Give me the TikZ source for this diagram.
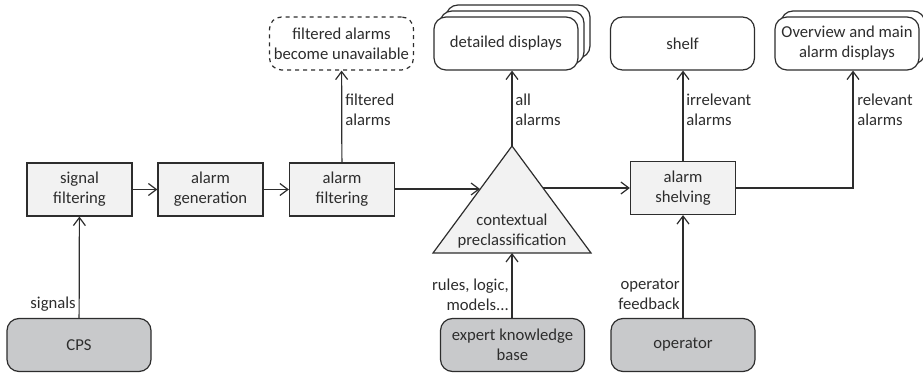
\documentclass[tikz,border=0pt]{standalone}
\usepackage{fontspec}
\setmainfont{Carlito}
\usetikzlibrary{arrows.meta,positioning}

\definecolor{boxfill}{RGB}{242,242,242}
\definecolor{srcfill}{RGB}{200,201,203}
\definecolor{edgegray}{RGB}{45,45,45}
\definecolor{textgray}{RGB}{45,45,45}

\tikzset{
  proc/.style={draw=edgegray, fill=boxfill, line width=0.9pt, minimum width=78.75pt, minimum height=39.75pt, inner sep=0pt, align=center},
  sink/.style={draw=edgegray, fill=white, line width=0.9pt, rounded corners=9pt, minimum width=108pt, minimum height=39.75pt, inner sep=0pt, align=center},
  source/.style={sink, fill=srcfill},
  flow/.style={draw=edgegray, line width=0.9pt, -{Straight Barb[length=6pt,width=9pt,line width=0.9pt]}},
  lbl/.style={text=textgray, align=left, inner sep=0pt},
}

\begin{document}
\begin{tikzpicture}[x=0.75pt, y=-0.75pt, font=\fontsize{12.5}{15}\selectfont, text=textgray]
            \useasboundingbox (0,0) rectangle (923,373);

            % main chain
                \node[proc] (sigf) at (79.5,189.5) {signal\\filtering};
                \node[proc] (agen) at (210.5,189.5) {alarm\\generation};
                \node[proc] (afil) at (342,189.5) {alarm\\filtering};
                \node[proc] (shelving) at (683,188) {alarm\\shelving};

            % contextual preclassification triangle
                \draw[draw=edgegray, fill=boxfill, line width=0.9pt] (512,146) coordinate (apex)
                    -- (433,253) -- (591,253) -- cycle;
                \coordinate (ctxin) at (480,189);
                \coordinate (ctxout) at (543,188);
                \node (ctx) at (512,231) [align=center, inner sep=0pt] {contextual\\preclassification};

            % outputs at the top
                \node[sink, dashed] (unavail) at (341.5,43.5) {filtered alarms\\become unavailable};
                \node[sink] at (518,31.5) {};
                \node[sink] at (512,37.5) {};
                \node[sink] (detail) at (506,43.5) {detailed displays};
                \node[sink] (shelf) at (682.5,43.5) {shelf};
                \node[sink] at (853,37.5) {};
                \node[sink] (overview) at (847,43.5) {Overview and main\\alarm displays};

            % inputs at the bottom
                \node[source] (cps) at (79,345) {CPS};
                \node[source] (expert) at (512.5,345) {expert knowledge\\base};
                \node[source] (oper) at (683,345) {operator};

            % connectors
                \draw[flow] (sigf) -- (agen);
                \draw[flow] (agen) -- (afil);
                \draw[flow] (afil.east |- ctxin) -- (ctxin);
                \draw[flow] (ctxout) -- (shelving.west |- ctxout);
                \draw[flow] (cps) -- (sigf);
                \draw[flow] (expert.north -| apex) -- (apex |- 0,253);
                \draw[flow] (oper) -- (shelving);
                \draw[flow] (afil) -- (unavail);
                \draw[flow] (apex) -- (apex |- detail.south);
                \draw[flow] (shelving) -- (shelf.south -| shelving);
                \draw[flow] (shelving.east) -| (853,0 |- overview.south);

            % connector labels
                \node[lbl, anchor=east] (lsig) at (76,304) {signals};
                \node[lbl, anchor=west] (lfil) at (345,110) {filtered\\alarms};
                \node[lbl, anchor=west] (lall) at (515,110) {all\\alarms};
                \node[lbl, anchor=west] (lirr) at (686,110) {irrelevant\\alarms};
                \node[lbl, anchor=west] (lrel) at (857,110) {relevant\\alarms};
                \node[lbl, anchor=east, align=right] (lrules) at (509,295) {rules, logic,\\models...};
                \node[lbl, anchor=east, align=right] (lfeed) at (680,294) {operator\\feedback};
\end{tikzpicture}
\end{document}
